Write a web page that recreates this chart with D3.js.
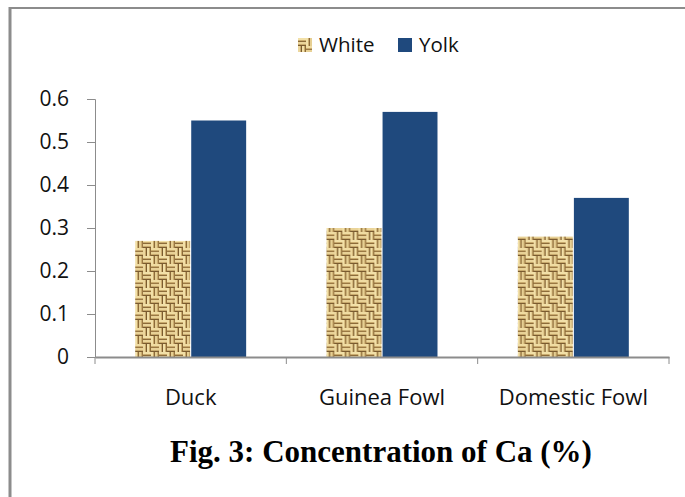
<!DOCTYPE html>
<html>
<head>
<meta charset="utf-8">
<script src="https://cdn.jsdelivr.net/npm/d3@7"></script>
<style>
  body { margin: 0; background: #fff; }
  svg { display: block; }
</style>
</head>
<body>
<div id="chart"></div>
<script>
// chart data
const categories = ["Duck", "Guinea Fowl", "Domestic Fowl"];
const seriesNames = ["White", "Yolk"];
const whiteValues = [0.27, 0.30, 0.28];
const yolkValues = [0.55, 0.57, 0.37];
const yTicks = [0, 0.1, 0.2, 0.3, 0.4, 0.5, 0.6];
const title = "Fig. 3: Concentration of Ca (%)";

const width = 685;
const height = 497;
const plot = {left: 95, right: 669, top: 99, bottom: 357};

const svg = d3.select("#chart")
  .append("svg")
  .attr("width", width)
  .attr("height", height);

// woven (basket) texture for the White bars
const defs = svg.append("defs");
const pat = defs.append("pattern")
  .attr("id", "weave")
  .attr("patternUnits", "userSpaceOnUse")
  .attr("width", 16)
  .attr("height", 16);
pat.append("rect").attr("width", 16).attr("height", 16).attr("fill", "#c9ab6e");
// light strands: horizontal in two quadrants, vertical in the others
const strands = [
  // top-left: horizontal
  [0, 0, 8, 2, "#f2e0a8"], [0, 4, 8, 2, "#ead49a"],
  // top-right: vertical
  [8, 0, 2, 8, "#f2e0a8"], [12, 0, 2, 8, "#e6cf93"],
  // bottom-left: vertical
  [0, 8, 2, 8, "#ecd79e"], [4, 8, 2, 8, "#f2e0a8"],
  // bottom-right: horizontal
  [8, 8, 8, 2, "#f0dca2"], [8, 12, 8, 2, "#e8d196"],
  // dark gaps
  [0, 3, 8, 1, "#8c6b3a"], [0, 7, 8, 1, "#7a5b30"],
  [11, 0, 1, 8, "#8c6b3a"], [15, 0, 1, 8, "#9a7844"],
  [3, 8, 1, 8, "#7a5b30"], [7, 8, 1, 8, "#8c6b3a"],
  [8, 11, 8, 1, "#9a7844"], [8, 15, 8, 1, "#7a5b30"]
];
pat.selectAll("rect.w")
  .data(strands)
  .enter()
  .append("rect")
    .attr("class", "w")
    .attr("x", d => d[0]).attr("y", d => d[1])
    .attr("width", d => d[2]).attr("height", d => d[3])
    .attr("fill", d => d[4]);

const colors = {White: "url(#weave)", Yolk: "#1f497d"};

// outer frame (top and left only, as in the scan)
svg.append("line").attr("x1", 9).attr("x2", width).attr("y1", 8).attr("y2", 8)
  .attr("stroke", "#8c8c8c").attr("stroke-width", 2);
svg.append("line").attr("x1", 10).attr("x2", 10).attr("y1", 7).attr("y2", height)
  .attr("stroke", "#8c8c8c").attr("stroke-width", 3);

// scales
const x0 = d3.scaleBand()
  .domain(categories)
  .range([plot.left, plot.right])
  .padding(0);

const x1 = d3.scaleBand()
  .domain(seriesNames)
  .range([x0.bandwidth() * 0.21, x0.bandwidth() * 0.79])
  .paddingInner(0.02);

const y = d3.scaleLinear()
  .domain([0, 0.6])
  .range([plot.bottom, plot.top]);

// y axis
const yAxis = svg.append("g")
  .attr("transform", `translate(${plot.left},0)`)
  .call(d3.axisLeft(y).tickValues(yTicks).tickSize(8).tickPadding(18)
    .tickFormat(d => d === 0 ? "0" : d3.format(".1f")(d)));
yAxis.select(".domain").attr("stroke", "#8c8c8c");
yAxis.selectAll(".tick line").attr("stroke", "#8c8c8c");
yAxis.selectAll("text")
  .attr("font-family", "Open Sans, sans-serif")
  .attr("font-size", "21px")
  .attr("fill", "#111");

// bars
const rows = categories.map((c, i) => ({cat: c, White: whiteValues[i], Yolk: yolkValues[i]}));

const groups = svg.selectAll(".grp")
  .data(rows)
  .enter()
  .append("g")
    .attr("class", "grp")
    .attr("transform", d => `translate(${x0(d.cat)},0)`);

groups.selectAll("rect")
  .data(d => seriesNames.map(s => ({key: s, value: d[s]})))
  .enter()
  .append("rect")
    .attr("x", d => x1(d.key))
    .attr("y", d => y(d.value))
    .attr("width", x1.bandwidth())
    .attr("height", d => y(0) - y(d.value))
    .attr("fill", d => colors[d.key]);

// x axis
const xAxis = svg.append("g")
  .attr("transform", `translate(0,${plot.bottom})`)
  .call(d3.axisBottom(x0).tickSize(0).tickPadding(32));
xAxis.select(".domain").attr("stroke", "#8c8c8c").attr("stroke-width", 2);
xAxis.selectAll("text")
  .attr("font-family", "Open Sans, sans-serif")
  .attr("font-size", "22px")
  .attr("fill", "#111");
// category separators
xAxis.selectAll(".sep")
  .data(x0.domain().map(c => x0(c)).concat([plot.right]))
  .enter()
  .append("line")
    .attr("x1", d => d).attr("x2", d => d)
    .attr("y1", 0).attr("y2", 7)
    .attr("stroke", "#8c8c8c");

// legend
const legend = svg.append("g").attr("transform", "translate(298,38)");
const legendX = [0, 100];
seriesNames.forEach((s, i) => {
  const g = legend.append("g").attr("transform", `translate(${legendX[i]},0)`);
  g.append("rect").attr("width", 14).attr("height", 14).attr("fill", colors[s]);
  g.append("text")
    .attr("x", 21).attr("y", 14)
    .attr("font-family", "Open Sans, sans-serif")
    .attr("font-size", "20.5px")
    .attr("fill", "#111")
    .text(s);
});

// caption
svg.append("text")
  .attr("x", 381).attr("y", 462)
  .attr("text-anchor", "middle")
  .attr("font-family", "Liberation Serif, serif")
  .attr("font-weight", "bold")
  .attr("font-size", "31px")
  .attr("fill", "#000")
  .text(title);
</script>
</body>
</html>
